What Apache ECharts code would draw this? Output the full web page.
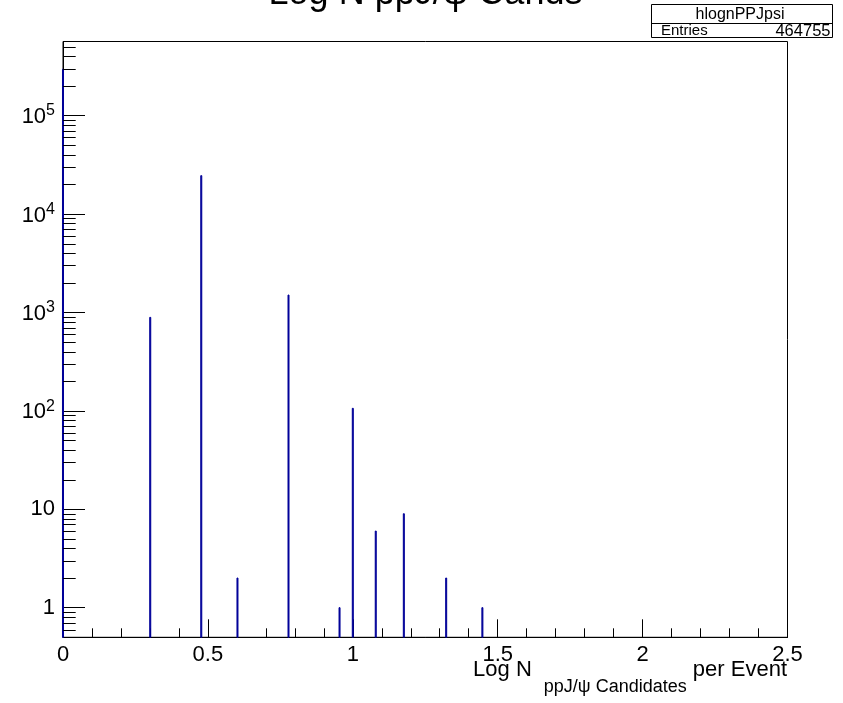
<!DOCTYPE html>
<html><head><meta charset="utf-8">
<script src="https://cdn.jsdelivr.net/npm/echarts@6/dist/echarts.min.js"></script>
<style>html,body{margin:0;padding:0;background:#fff}#c{width:843px;height:703px}</style>
</head><body><div id="c"></div>
<script>
// ---- data ----
const binCenters = [0, 0.30103, 0.47712, 0.60206, 0.77815, 0.95424, 1.0, 1.07918, 1.17609, 1.32222, 1.44716];
const counts     = [295000, 890, 24500, 2, 1500, 1, 106, 6, 9, 2, 1];
const xTickLabels = ['0', '0.5', '1', '1.5', '2', '2.5'];
const yMajorLabels = ['1', '10', '10^2', '10^3', '10^4', '10^5'];
const histName = 'hlognPPJpsi';
const entriesLabel = 'Entries';
const entries = '464755';
const titleText = 'Log N ppJ/\u03c8 Cands';
const yMin = 0.5, yMax = 565000;
const xMin = 0, xMax = 2.5;
const binWidth = 0.0035;

const FONT = '"Liberation Sans", Arial, Helvetica, sans-serif';
const minorVals = [];
for (let k = -1; k <= 5; k++) for (let m = 2; m <= 9; m++) {
  const v = m * Math.pow(10, k);
  if (v > yMin && v < yMax) minorVals.push(v);
}

const chart = echarts.init(document.getElementById('c'), null, {renderer: 'canvas'});
const option = {
  animation: false,
  backgroundColor: '#fff',
  grid: {left: 63, right: 55.5, top: 41.5, bottom: 65.7, show: true, borderColor: '#000', borderWidth: 1, backgroundColor: 'transparent'},
  xAxis: {
    type: 'value', min: xMin, max: xMax, interval: 0.5,
    axisLine: {show: true, lineStyle: {color: '#000', width: 1}},
    axisTick: {show: true, inside: true, length: 18, lineStyle: {color: '#000'}},
    minorTick: {show: true, splitNumber: 5, length: 9, lineStyle: {color: '#000'}},
    splitLine: {show: false},
    axisLabel: {color: '#000', fontSize: 22, fontFamily: FONT, margin: 7, showMinLabel: true, showMaxLabel: true,
      formatter: v => xTickLabels[Math.round(v / 0.5)] || ''}
  },
  yAxis: {
    type: 'log', logBase: 10, min: yMin, max: yMax,
    axisLine: {show: true, lineStyle: {color: '#000', width: 1}},
    axisTick: {show: true, inside: true, length: 22, lineStyle: {color: '#000'}},
    splitLine: {show: false},
    axisLabel: {
      showMinLabel: false, showMaxLabel: false, margin: 8, color: '#000',
      formatter: v => {
        const e = Math.round(Math.log10(v));
        const lab = yMajorLabels[e];
        if (!lab) return '';
        if (lab.indexOf('^') < 0) return '{p|' + lab + '}';
        const parts = lab.split('^');
        return '{b|' + parts[0] + '}{s|' + parts[1] + '}';
      },
      rich: {
        p: {fontSize: 22, fontFamily: FONT, color: '#000'},
        b: {fontSize: 22, fontFamily: FONT, color: '#000', padding: [2, 0, 0, 0], verticalAlign: 'bottom'},
        s: {fontSize: 16, fontFamily: FONT, color: '#000', padding: [0, 0, 9, 0], verticalAlign: 'bottom'}
      }
    }
  },
  series: [
    {
      type: 'custom', clip: false, z: 5, silent: true,
      data: binCenters.map((x, i) => [x, counts[i]]),
      renderItem: (params, api) => {
        const x = api.value(0), v = api.value(1);
        const a = api.coord([x - binWidth / 2, yMin]);
        const b = api.coord([x + binWidth / 2, v]);
        return {type: 'rect', shape: {x: a[0], y: b[1], width: Math.max(b[0] - a[0], 0.5), height: a[1] - b[1]},
          style: {fill: '#000099', stroke: '#000099', lineWidth: 1}};
      }
    },
    {
      type: 'custom', clip: false, z: 6, silent: true,
      data: minorVals.map(v => [0, v]),
      renderItem: (params, api) => {
        const p = api.coord([0, api.value(1)]);
        const y = Math.round(p[1]) + 0.5;
        return {type: 'line', shape: {x1: p[0], y1: y, x2: p[0] + 12.7, y2: y}, style: {stroke: '#000', lineWidth: 1}};
      }
    }
  ],
  graphic: [
    {type: 'text', x: 425.5, y: -5.5, style: {text: titleText, font: '36px ' + FONT, fill: '#000', align: 'center', verticalAlign: 'middle'}},
    {type: 'rect', shape: {x: 651.5, y: 4.5, width: 181, height: 33}, style: {fill: '#fff', stroke: '#000', lineWidth: 1}, z: 100},
    {type: 'line', shape: {x1: 651.5, y1: 23.5, x2: 832.5, y2: 23.5}, style: {stroke: '#000', lineWidth: 1}, z: 101},
    {type: 'text', x: 740, y: 14.5, style: {text: histName, font: '16px ' + FONT, fill: '#000', align: 'center', verticalAlign: 'middle'}, z: 102},
    {type: 'text', x: 661, y: 31, style: {text: entriesLabel, font: '15px ' + FONT, fill: '#000', align: 'left', verticalAlign: 'middle'}, z: 102},
    {type: 'text', x: 830.5, y: 31, style: {text: entries, font: '16.5px ' + FONT, fill: '#000', align: 'right', verticalAlign: 'middle'}, z: 102},
    {type: 'text', x: 787, y: 659, style: {
      text: '{a|Log N}{s|ppJ/\u03c8 Candidates}{a| per Event}', align: 'right', verticalAlign: 'top',
      rich: {
        a: {fontSize: 22, fontFamily: FONT, fill: '#000', verticalAlign: 'top'},
        s: {fontSize: 18, fontFamily: FONT, fill: '#000', padding: [19, 0, 0, 12], verticalAlign: 'top'}
      }}}
  ]
};
chart.setOption(option);
</script></body></html>
